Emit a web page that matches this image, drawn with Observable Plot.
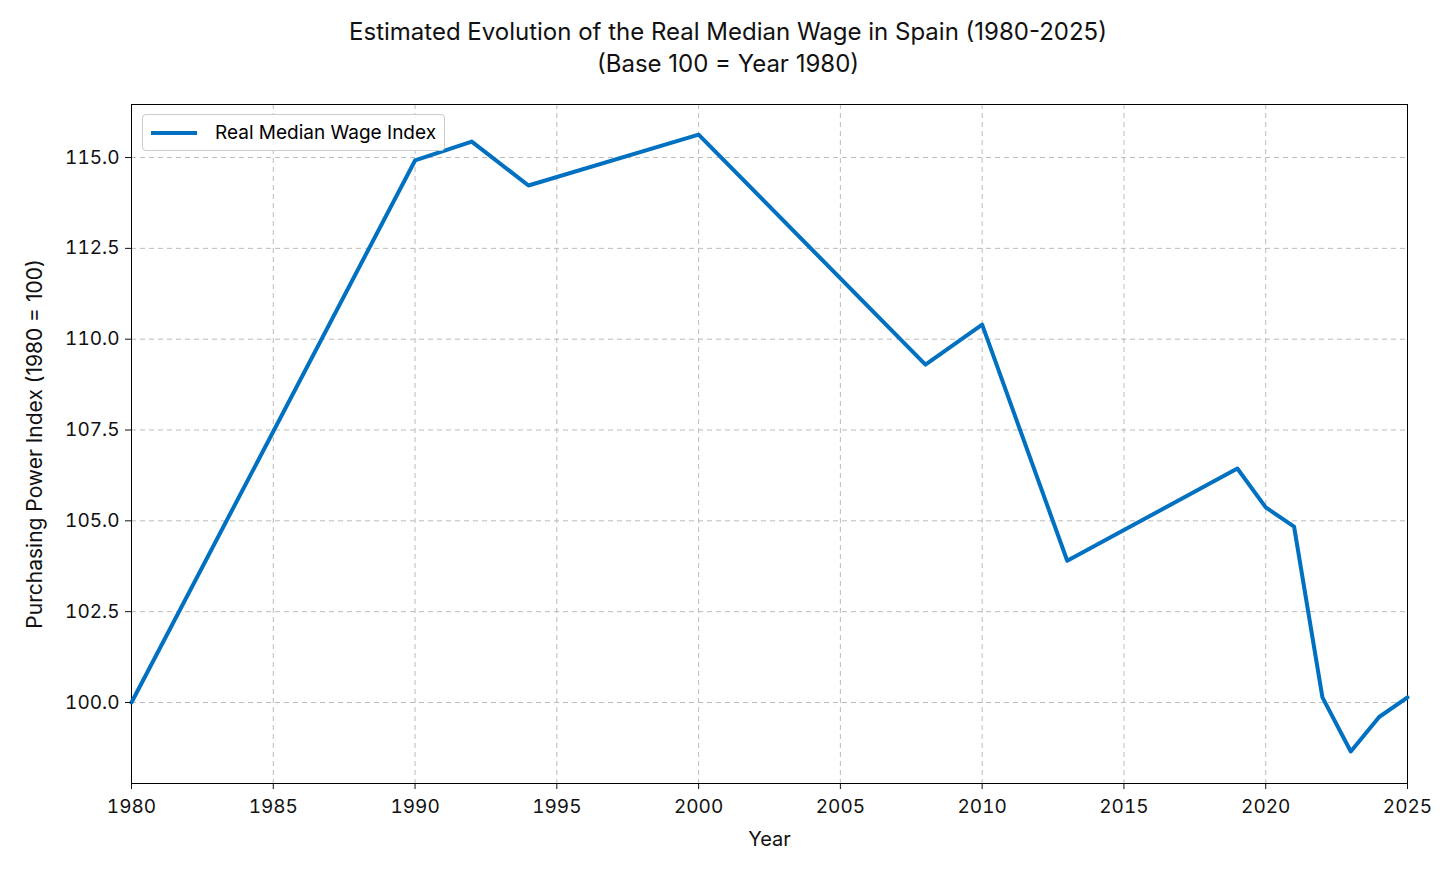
<!DOCTYPE html>
<html><head><meta charset="utf-8">
<script src="https://cdn.jsdelivr.net/npm/d3@7"></script>
<script src="https://cdn.jsdelivr.net/npm/@observablehq/plot@0.6"></script>
<style>
body{margin:0;background:#fff;font-family:Inter,"Open Sans",sans-serif;}
#title{height:100px;text-align:center;font-size:24px;line-height:32px;padding-top:16px;box-sizing:border-box;color:#111;}
#wrap{position:relative;}
#legend{position:absolute;left:142px;top:14px;border:1px solid #ccc;border-radius:4px;background:rgba(255,255,255,0.9);padding:6px 8px;font-size:19px;display:flex;align-items:center;gap:18px;}
#legend span.l{display:inline-block;width:46px;height:4px;background:#0070c0;}
svg g[aria-label="y-axis label"] text{font-size:21px;}
svg g[aria-label="x-axis label"] text{font-size:20px;}
</style></head><body>
<div id="title">Estimated Evolution of the Real Median Wage in Spain (1980-2025)<br>(Base 100 = Year 1980)</div>
<div id="wrap"><div id="legend"><span class="l"></span>Real Median Wage Index</div></div>
<script>
const years = [1980,1990,1992,1994,2000,2008,2010,2013,2019,2020,2021,2022,2023,2024,2025];
const values = [100,114.92,115.44,114.23,115.63,109.3,110.4,103.9,106.44,105.37,104.84,100.14,98.65,99.6,100.14];
const xTicks = [1980,1985,1990,1995,2000,2005,2010,2015,2020,2025];
const yTicks = [100,102.5,105,107.5,110,112.5,115];
const data = years.map((y,i)=>({year:y,value:values[i]}));
const chart = Plot.plot({
  width:1456,height:774,marginTop:4,marginBottom:91,marginLeft:131,marginRight:49,
  style:{fontSize:"19px",fontFamily:"Inter,'Open Sans',sans-serif",color:"#111"},
  x:{domain:[1980,2025]},
  y:{domain:[97.77,116.46]},
  marks:[
    Plot.gridX(xTicks,{stroke:"#bbb",strokeOpacity:1,strokeDasharray:"5,4"}),
    Plot.gridY(yTicks,{stroke:"#bbb",strokeOpacity:1,strokeDasharray:"5,4"}),
    Plot.frame({stroke:"#000"}),
    Plot.line(data,{x:"year",y:"value",stroke:"#0070c0",strokeWidth:4}),
    Plot.axisX({ticks:xTicks,tickFormat:"d",tickSize:6,tickPadding:10,label:"Year",labelAnchor:"center",labelArrow:"none",labelOffset:62}),
    Plot.axisY({ticks:yTicks,tickFormat:".1f",tickSize:6,tickPadding:6,label:"Purchasing Power Index (1980 = 100)",labelAnchor:"center",labelArrow:"none",labelOffset:104})
  ]
});
document.getElementById("wrap").prepend(chart);
</script></body></html>
